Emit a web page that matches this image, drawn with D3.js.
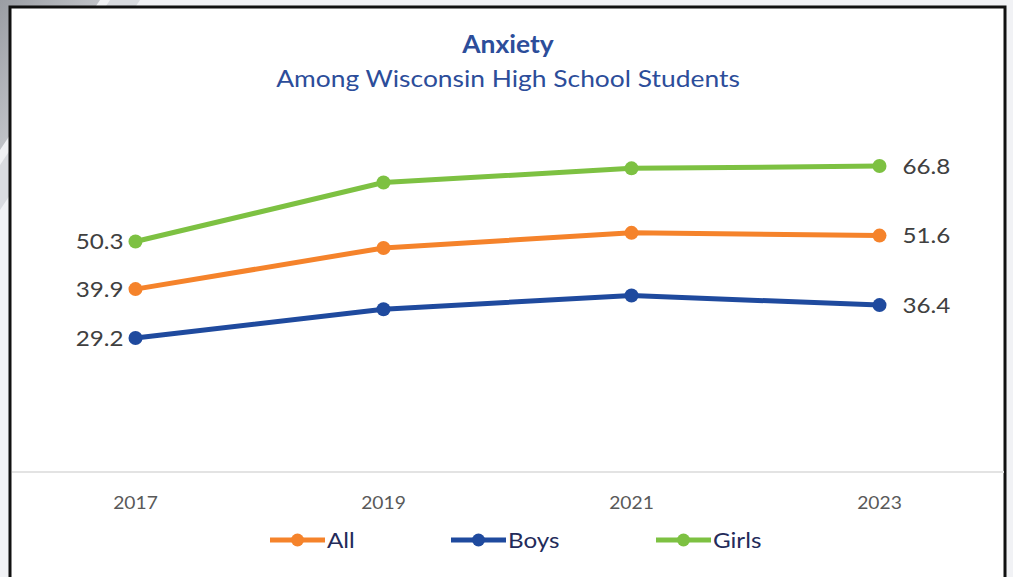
<!DOCTYPE html>
<html>
<head>
<meta charset="utf-8">
<script src="https://cdn.jsdelivr.net/npm/d3@7"></script>
<style>
  html, body { margin: 0; padding: 0; background: #f1f2f5; }
  svg { display: block; }
</style>
</head>
<body>
<svg id="chart" width="1013" height="577"></svg>
<script>
// Share of Wisconsin high school students reporting anxiety (%)
const years = ["2017", "2019", "2021", "2023"];
const allStudents = [39.9, 48.9, 52.2, 51.6];
const boys = [29.2, 35.5, 38.5, 36.4];
const girls = [50.3, 63.2, 66.3, 66.8];
const seriesNames = ["All", "Boys", "Girls"];
const seriesColors = ["#f5832b", "#1f4a9e", "#7dc142"];

const series = [
  { name: seriesNames[0], values: allStudents, color: seriesColors[0] },
  { name: seriesNames[1], values: boys, color: seriesColors[1] },
  { name: seriesNames[2], values: girls, color: seriesColors[2] }
];

const svg = d3.select("#chart");
const font = "Lato, 'Open Sans', sans-serif";
const stretch = 1.1; // slightly widened lettering

// Places a horizontally widened text label anchored at (x, y)
function label(parent, x, y, txt, opts) {
  return parent.append("text")
    .attr("transform", `translate(${x},${y}) scale(${stretch},1)`)
    .attr("x", 0).attr("y", 0)
    .attr("dy", opts.dy || "0.35em")
    .attr("text-anchor", opts.anchor || "middle")
    .attr("font-family", font)
    .attr("font-size", opts.size)
    .attr("font-weight", opts.weight || 400)
    .attr("fill", opts.fill)
    .text(txt);
}

// Backdrop swoosh in the upper-left corner behind the frame
const defs = svg.append("defs");
const g1 = defs.append("linearGradient").attr("id", "sw1")
  .attr("x1", "0").attr("y1", "0").attr("x2", "1").attr("y2", "1");
g1.append("stop").attr("offset", "0").attr("stop-color", "#9a9da3");
g1.append("stop").attr("offset", "1").attr("stop-color", "#e4e6ea");
svg.append("path").attr("d", "M0,0 L100,0 L0,150 Z").attr("fill", "url(#sw1)");
svg.append("path").attr("d", "M110,0 L140,0 L0,210 L0,165 Z").attr("fill", "#d9dbe0");

// Framed white panel
svg.append("rect")
  .attr("x", 10).attr("y", 7)
  .attr("width", 995).attr("height", 590)
  .attr("fill", "#ffffff").attr("stroke", "#111111").attr("stroke-width", 3);

// Scales: category bands across the plot, percent on the vertical
const x = d3.scaleBand().domain(years).range([11.5, 1003.5]);
const y = d3.scaleLinear().domain([0, 80]).range([471.6, 105.7]);
const cx = d => x(d) + x.bandwidth() / 2;

// Horizontal category axis: baseline from the axis generator, widened tick labels
const axisG = svg.append("g").attr("transform", `translate(0,${y(0)})`)
  .call(d3.axisBottom(x).tickSize(0).tickFormat(""));
axisG.select(".domain").attr("stroke", "#e3e3e3").attr("stroke-width", 2);
axisG.selectAll(".tick").each(function (d) {
  label(d3.select(this), 0, 31, d, { size: 17.5, fill: "#595959" });
});

// Title
label(svg, 508, 45, "Anxiety", { size: 24, weight: 700, fill: "#2c4d9a" });
label(svg, 508, 79, "Among Wisconsin High School Students", { size: 24, fill: "#2c4d9a" });

// Lines and markers
const line = d3.line().x((d, i) => cx(years[i])).y(d => y(d));
const sg = svg.selectAll("g.series").data(series).join("g").attr("class", "series");
sg.append("path")
  .attr("d", d => line(d.values))
  .attr("fill", "none").attr("stroke", d => d.color)
  .attr("stroke-width", 5).attr("stroke-linejoin", "round").attr("stroke-linecap", "round");
sg.selectAll("circle").data(d => d.values.map((v, i) => ({ v, i, color: d.color })))
  .join("circle")
  .attr("cx", d => cx(years[d.i])).attr("cy", d => y(d.v)).attr("r", 7)
  .attr("fill", d => d.color);

// End-point value labels
sg.each(function (d) {
  const g = d3.select(this);
  label(g, cx(years[0]) - 12, y(d.values[0]), d.values[0].toFixed(1),
    { size: 22, anchor: "end", fill: "#404040" });
  label(g, cx(years[3]) + 23, y(d.values[3]), d.values[3].toFixed(1),
    { size: 22, anchor: "start", fill: "#404040" });
});

// Legend
const legendX = [270, 451, 656];
const lg = svg.selectAll("g.legend").data(series).join("g").attr("class", "legend")
  .attr("transform", (d, i) => `translate(${legendX[i]},540)`);
lg.append("line").attr("x1", 0).attr("x2", 55).attr("y1", 0).attr("y2", 0)
  .attr("stroke", d => d.color).attr("stroke-width", 5);
lg.append("circle").attr("cx", 27.5).attr("cy", 0).attr("r", 6.5).attr("fill", d => d.color);
lg.each(function (d) {
  label(d3.select(this), 57, 0, d.name, { size: 22, anchor: "start", fill: "#232b5a" });
});
</script>
</body>
</html>
